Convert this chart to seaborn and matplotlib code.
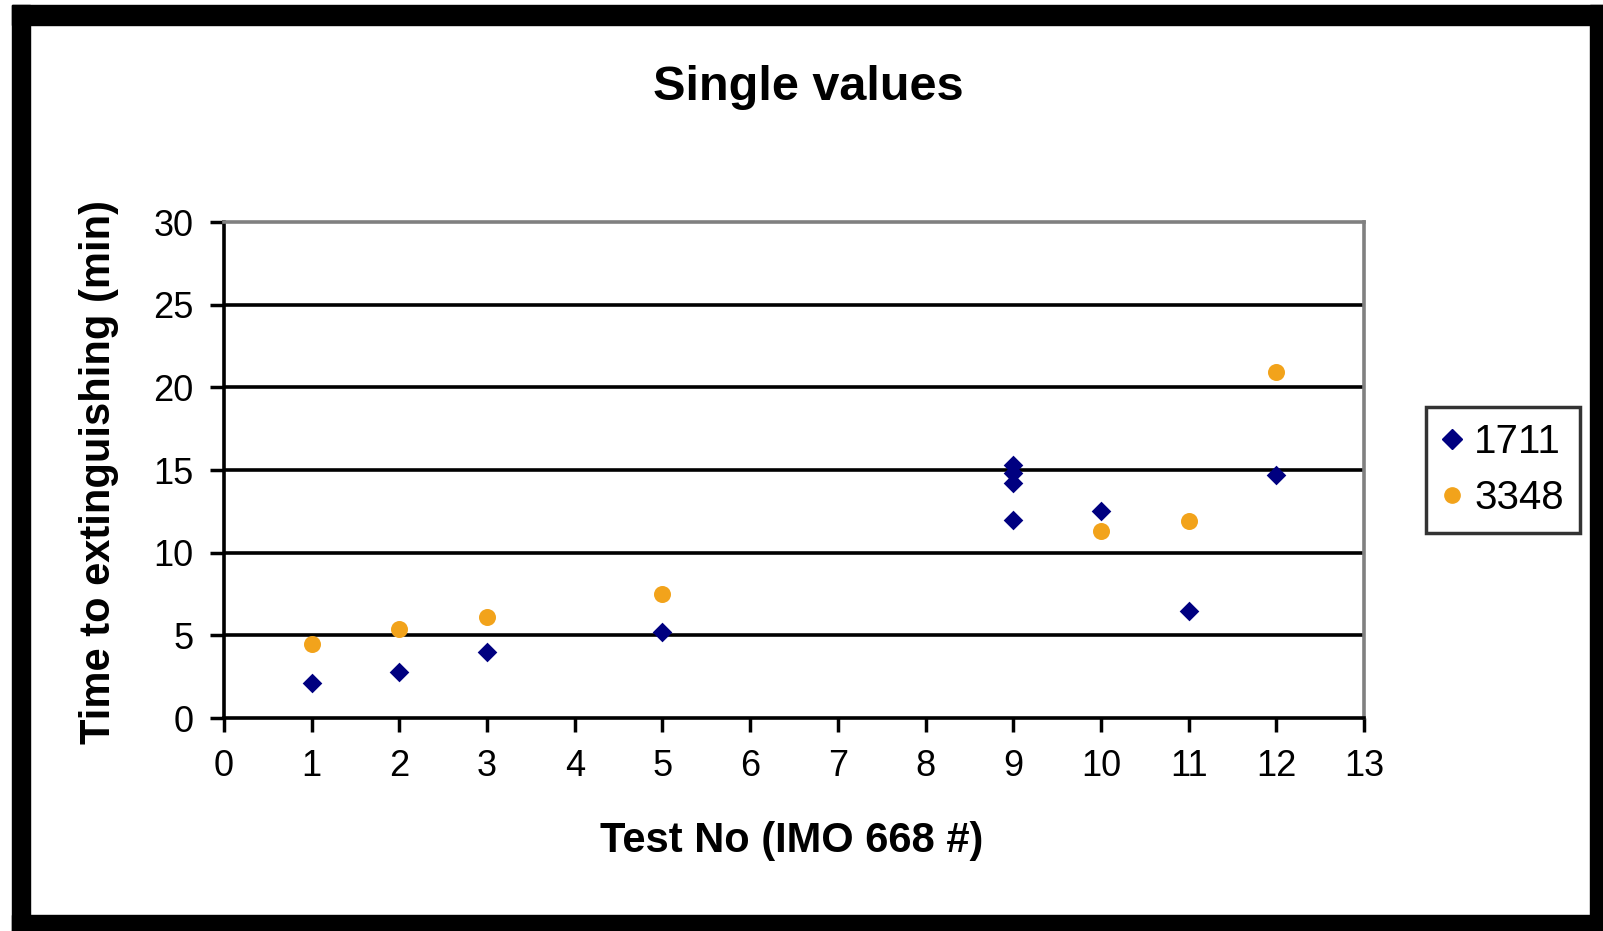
import matplotlib
matplotlib.use("Agg")
import matplotlib.pyplot as plt
import seaborn as sns
import pandas as pd
from matplotlib.patches import Rectangle
from matplotlib.lines import Line2D

# ---- data ----
tests_1711 = [1, 2, 3, 5, 9, 9, 9, 9, 10, 11, 12]
times_1711 = [2.1, 2.8, 4.0, 5.2, 15.3, 14.8, 14.2, 12.0, 12.5, 6.5, 14.7]
tests_3348 = [1, 2, 3, 5, 10, 11, 12]
times_3348 = [4.5, 5.4, 6.1, 7.5, 11.3, 11.9, 20.9]
series_names = ["1711", "3348"]
x_ticks = list(range(0, 14))
y_ticks = [0, 5, 10, 15, 20, 25, 30]

df = pd.DataFrame({
    "test": tests_1711 + tests_3348,
    "time": times_1711 + times_3348,
    "series": [series_names[0]] * len(tests_1711) + [series_names[1]] * len(tests_3348),
})

sns.set_theme(style="white")
plt.rcParams["font.family"] = ["Liberation Sans", "DejaVu Sans"]
plt.rcParams["text.color"] = "black"
plt.rcParams["axes.labelcolor"] = "black"
plt.rcParams["xtick.color"] = "black"
plt.rcParams["ytick.color"] = "black"

W, H = 1603, 931
fig = plt.figure(figsize=(W / 100, H / 100), dpi=100)
fig.patch.set_facecolor("white")

L, R, T, B = 224, 1364, 222, 718
ax = fig.add_axes([L / W, 1 - B / H, (R - L) / W, (B - T) / H])

palette = {"1711": "#000080", "3348": "#F2A31B"}
markers = {"1711": "D", "3348": "o"}
sizes = {"1711": 100, "3348": 150}
for name in series_names:
    sub = df[df["series"] == name]
    sns.scatterplot(data=sub, x="test", y="time", color=palette[name],
                    marker=markers[name], s=sizes[name], linewidth=0,
                    ax=ax, legend=False, zorder=3)

ax.set_xlim(0, 13)
ax.set_ylim(0, 30)
ax.set_xticks(x_ticks)
ax.set_yticks(y_ticks)
ax.set_xticklabels([str(v) for v in x_ticks])
ax.set_yticklabels([str(v) for v in y_ticks])
ax.tick_params(axis="both", which="major", labelsize=26, length=10, width=2.5,
               direction="out", color="black", labelcolor="black", pad=12,
               left=True, bottom=True)
ax.grid(False)
for yv in y_ticks[1:-1]:
    ax.axhline(yv, color="black", lw=2.6, zorder=1)

for s in ["left", "bottom"]:
    ax.spines[s].set_color("black")
    ax.spines[s].set_linewidth(2.6)
for s in ["top", "right"]:
    ax.spines[s].set_color("#808080")
    ax.spines[s].set_linewidth(2.6)

ax.set_xlabel("Test No (IMO 668 #)", fontsize=30, fontweight="bold", color="black")
ax.set_ylabel("Time to extinguishing (min)", fontsize=30, fontweight="bold", color="black")
ax.xaxis.set_label_coords((792 - L) / (R - L), (B - 841) / (B - T))
ax.yaxis.set_label_coords((99 - L) / (R - L), (B - 472) / (B - T))
ax.xaxis.label.set_va("center")
ax.yaxis.label.set_va("center")

fig.text(808 / W, 1 - 88 / H, "Single values", fontsize=35, fontweight="bold",
         ha="center", va="center", color="black")

# legend
handles = [Line2D([], [], marker=markers[n], color=palette[n], linestyle="none",
                  markersize=10 if n == "1711" else 11) for n in series_names]
leg = fig.legend(handles, series_names, loc="center left",
                 bbox_to_anchor=(1426 / W, 1 - 470 / H), fontsize=29,
                 frameon=True, fancybox=False, edgecolor="black",
                 handlelength=0.5, handletextpad=0.3, borderpad=0.4,
                 labelspacing=0.45, borderaxespad=0)
leg.get_frame().set_linewidth(2.5)
for t in leg.get_texts():
    t.set_color("black")

# black outer border
fig.patches.append(Rectangle((12 / W, 0), 18 / W, 1 - 5 / H, transform=fig.transFigure,
                             color="black", zorder=10))
fig.patches.append(Rectangle((12 / W, 1 - 25 / H), 1 - 12 / W, 20 / H,
                             transform=fig.transFigure, color="black", zorder=10))
fig.patches.append(Rectangle((1590 / W, 0), 13 / W, 1 - 5 / H, transform=fig.transFigure,
                             color="black", zorder=10))
fig.patches.append(Rectangle((12 / W, 0), 1 - 12 / W, 16 / H, transform=fig.transFigure,
                             color="black", zorder=10))

fig.savefig("out.png", dpi=100, facecolor="white")
